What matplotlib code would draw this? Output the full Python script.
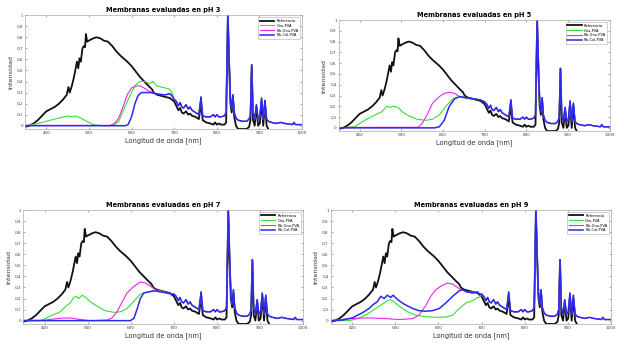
import matplotlib
matplotlib.use("Agg")
import matplotlib.pyplot as plt
from matplotlib.ticker import FuncFormatter

# ---- data -----------------------------------------------------------------
titles = ["Membranas evaluadas en pH 3", "Membranas evaluadas en pH 5",
          "Membranas evaluadas en pH 7", "Membranas evaluadas en pH 9"]
labels = ["Referencia", "Gnu-PVA", "Fib-Gnu-PVA", "Fib-Col-PVA"]

# reference lamp spectrum (same in every panel)
wl_ref = [350, 360, 370, 380, 390, 400, 410, 420, 430, 440, 448, 452, 455, 460, 465, 469, 472, 475,
          478, 481, 485, 488, 491, 493, 496, 500, 505, 510, 518, 527, 535, 545, 555, 565, 575, 590,
          600, 610, 620, 630, 640, 648, 652, 660, 670, 680, 690, 700, 705, 710, 714, 718, 722, 728,
          733, 737, 742, 750, 758, 763, 767, 775, 785, 792, 796, 800, 805, 810, 818, 822, 826, 829,
          832, 835, 838, 841, 845, 850, 860, 870, 876, 879, 882, 885, 889, 893, 897, 901, 905, 909,
          913, 917, 921, 925]
ref = [-0.01, 0.0, 0.02, 0.05, 0.09, 0.13, 0.15, 0.17, 0.20, 0.24, 0.28, 0.35, 0.30, 0.36, 0.44, 0.52,
       0.58, 0.52, 0.61, 0.58, 0.70, 0.72, 0.71, 0.83, 0.76, 0.77, 0.78, 0.79, 0.80, 0.79, 0.77, 0.76,
       0.72, 0.67, 0.63, 0.58, 0.54, 0.49, 0.44, 0.40, 0.36, 0.33, 0.30, 0.28, 0.27, 0.26, 0.25, 0.22,
       0.18, 0.14, 0.16, 0.12, 0.11, 0.13, 0.10, 0.11, 0.09, 0.08, 0.06, 0.20, 0.05, 0.03, 0.02, 0.01,
       0.03, 0.01, 0.02, 0.01, 0.01, 0.03, 1.00, 0.55, 0.20, 0.12, 0.25, 0.08, 0.0, -0.03, -0.03, -0.03,
       -0.01, 0.05, 0.55, 0.05, 0.0, 0.17, 0.0, 0.02, 0.22, 0.0, 0.20, 0.0, -0.03, -0.06]

# NIR part shared by the three membranes (>= 700 nm)
wl_tail = [700, 705, 710, 714, 718, 722, 728, 733, 737, 742, 750, 758, 763, 767, 775, 785, 792, 796,
           800, 805, 810, 818, 822, 826, 829, 832, 835, 838, 841, 845, 850, 860, 870, 876, 879, 882,
           885, 889, 893, 897, 901, 905, 909, 913, 917, 921, 928, 940, 950, 960, 970, 978, 981, 985,
           1000]
tail = [0.24, 0.22, 0.18, 0.21, 0.17, 0.16, 0.19, 0.15, 0.17, 0.14, 0.12, 0.10, 0.26, 0.09, 0.08,
        0.08, 0.10, 0.08, 0.10, 0.08, 0.08, 0.09, 0.12, 1.00, 0.60, 0.25, 0.15, 0.28, 0.12, 0.07,
        0.05, 0.04, 0.04, 0.06, 0.10, 0.55, 0.12, 0.06, 0.19, 0.06, 0.08, 0.25, 0.06, 0.23, 0.06,
        0.04, 0.03, 0.02, 0.03, 0.02, 0.015, 0.01, 0.03, 0.01, 0.01]

# pH 3
g3_wl = [350, 380, 400, 420, 435, 450, 462, 469, 480, 490, 500, 510, 530, 550, 560, 570, 581, 590,
         600, 610, 620, 632, 642, 650, 660, 670, 680, 690, 695]
g3 = [0.0, 0.02, 0.04, 0.06, 0.075, 0.088, 0.08, 0.088, 0.07, 0.05, 0.03, 0.01, 0.0, 0.0, 0.01,
      0.04, 0.14, 0.22, 0.30, 0.37, 0.40, 0.40, 0.38, 0.40, 0.36, 0.35, 0.34, 0.33, 0.30]
m3_wl = [350, 450, 550, 560, 570, 580, 590, 600, 610, 620, 630, 642, 660, 680, 690, 695]
m3 = [0.003, 0.003, 0.003, 0.02, 0.07, 0.17, 0.28, 0.34, 0.36, 0.36, 0.34, 0.31, 0.29, 0.28, 0.29, 0.27]
b3_wl = [350, 500, 585, 592, 600, 608, 615, 623, 632, 645, 655, 670, 680, 690, 695]
b3 = [0.0, 0.0, 0.0, 0.01, 0.08, 0.20, 0.27, 0.30, 0.30, 0.30, 0.29, 0.28, 0.28, 0.29, 0.27]

# pH 5
g5_wl = [350, 388, 412, 437, 453, 465, 473, 481, 492, 502, 518, 538, 559, 575, 591, 607, 624, 640,
         656, 672, 689, 695]
g5 = [0.0, 0.01, 0.07, 0.12, 0.15, 0.20, 0.19, 0.20, 0.19, 0.15, 0.11, 0.08, 0.07, 0.08, 0.12,
      0.20, 0.27, 0.29, 0.27, 0.27, 0.26, 0.25]
m5_wl = [350, 450, 540, 550, 563, 575, 591, 603, 615, 628, 640, 656, 672, 689, 695]
m5 = [0.003, 0.005, 0.005, 0.04, 0.13, 0.23, 0.29, 0.32, 0.33, 0.32, 0.29, 0.28, 0.27, 0.26, 0.25]
b5_wl = [350, 500, 580, 591, 603, 615, 628, 640, 656, 672, 689, 695]
b5 = [0.0, 0.0, 0.0, 0.01, 0.07, 0.20, 0.27, 0.29, 0.28, 0.27, 0.26, 0.25]

# pH 7
g7_wl = [350, 390, 413, 436, 452, 460, 467, 474, 479, 487, 495, 506, 522, 541, 560, 576, 591, 606,
         622, 638, 653, 669, 684, 695]
g7 = [0.0, 0.0, 0.04, 0.08, 0.14, 0.16, 0.21, 0.22, 0.20, 0.23, 0.21, 0.17, 0.13, 0.09, 0.075,
      0.08, 0.11, 0.17, 0.24, 0.26, 0.27, 0.27, 0.25, 0.24]
m7_wl = [350, 398, 421, 444, 460, 483, 506, 545, 556, 568, 580, 591, 607, 622, 634, 646, 661, 677, 695]
m7 = [0.003, 0.003, 0.015, 0.024, 0.024, 0.01, 0.0, 0.006, 0.024, 0.08, 0.17, 0.25, 0.31, 0.35,
      0.34, 0.31, 0.27, 0.26, 0.24]
b7_wl = [350, 500, 599, 607, 615, 622, 630, 642, 653, 669, 684, 695]
b7 = [0.0, 0.0, 0.0, 0.02, 0.11, 0.20, 0.25, 0.26, 0.27, 0.26, 0.25, 0.24]

# pH 9
g9_wl = [350, 392, 415, 439, 454, 466, 474, 481, 489, 497, 509, 528, 547, 571, 594, 617, 633, 648,
         664, 679, 691, 695]
g9 = [0.0, 0.0, 0.02, 0.07, 0.11, 0.14, 0.16, 0.18, 0.19, 0.17, 0.13, 0.08, 0.05, 0.035, 0.03,
      0.033, 0.05, 0.11, 0.16, 0.18, 0.21, 0.21]
m9_wl = [353, 384, 423, 447, 478, 509, 540, 555, 571, 582, 594, 609, 621, 633, 648, 664, 679, 691, 695]
m9 = [0.003, 0.015, 0.024, 0.024, 0.018, 0.01, 0.018, 0.05, 0.14, 0.22, 0.28, 0.32, 0.34, 0.33,
      0.29, 0.26, 0.26, 0.25, 0.24]
b9_wl = [353, 377, 400, 423, 439, 450, 458, 466, 474, 481, 489, 495, 505, 520, 540, 555, 571, 586,
         602, 617, 633, 648, 656, 667, 679, 691, 695]
b9 = [0.0, 0.005, 0.025, 0.07, 0.11, 0.15, 0.17, 0.22, 0.20, 0.23, 0.21, 0.23, 0.19, 0.15, 0.11,
      0.09, 0.085, 0.09, 0.11, 0.16, 0.22, 0.27, 0.28, 0.26, 0.25, 0.26, 0.24]

panels = [
    [(g3_wl, g3), (m3_wl, m3), (b3_wl, b3)],
    [(g5_wl, g5), (m5_wl, m5), (b5_wl, b5)],
    [(g7_wl, g7), (m7_wl, m7), (b7_wl, b7)],
    [(g9_wl, g9), (m9_wl, m9), (b9_wl, b9)],
]

x_ticks = [400, 500, 600, 700, 800, 900, 1000]
y_ticks = [0, 0.1, 0.2, 0.3, 0.4, 0.5, 0.6, 0.7, 0.8, 0.9, 1]

# ---- figure -----------------------------------------------------------------
colors = ["#111111", "#33e033", "#ee22ee", "#2a2aee"]
widths = [1.3, 0.8, 0.8, 1.1]

# [left, bottom, width, height] in figure fraction
boxes = [[0.040, 0.626, 0.444, 0.330],
         [0.543, 0.620, 0.434, 0.322],
         [0.037, 0.061, 0.449, 0.330],
         [0.530, 0.061, 0.449, 0.330]]

fig = plt.figure(figsize=(6.24, 3.45), dpi=100)
fmt = FuncFormatter(lambda v, _: ("%g" % round(v, 1)).replace(".", ","))

for title, membranes, box in zip(titles, panels, boxes):
    ax = fig.add_axes(box)
    ax.plot(wl_ref, ref, color=colors[0], lw=widths[0], label=labels[0])
    for (wl, vals), c, lw, lab in zip(membranes, colors[1:], widths[1:], labels[1:]):
        ax.plot(list(wl) + wl_tail, list(vals) + tail, color=c, lw=lw, label=lab)
    ax.set_xlim(350, 1000)
    ax.set_ylim(-0.03, 1)
    ax.set_xticks(x_ticks)
    ax.set_yticks(y_ticks)
    ax.yaxis.set_major_formatter(fmt)
    ax.tick_params(direction="in", length=1.5, width=0.4, labelsize=3.0, pad=1.5,
                   top=True, right=True, colors="#666666", labelcolor="#444444")
    for s in ax.spines.values():
        s.set_color("#aaaaaa")
        s.set_linewidth(0.5)
    ax.set_title(title, fontsize=4.8, fontweight="bold", pad=2.5)
    ax.set_xlabel("Longitud de onda [nm]", fontsize=4.8, labelpad=1.5, color="#333333")
    ax.set_ylabel("Intensidad", fontsize=4.6, labelpad=2.5, color="#333333")
    leg = ax.legend(loc="upper right", fontsize=2.6, handlelength=4, frameon=True,
                    fancybox=False, borderpad=0.4, labelspacing=0.25, handletextpad=0.6,
                    borderaxespad=0.6)
    leg.get_frame().set_edgecolor("#999999")
    leg.get_frame().set_linewidth(0.4)

fig.savefig("out.png", dpi=100)
